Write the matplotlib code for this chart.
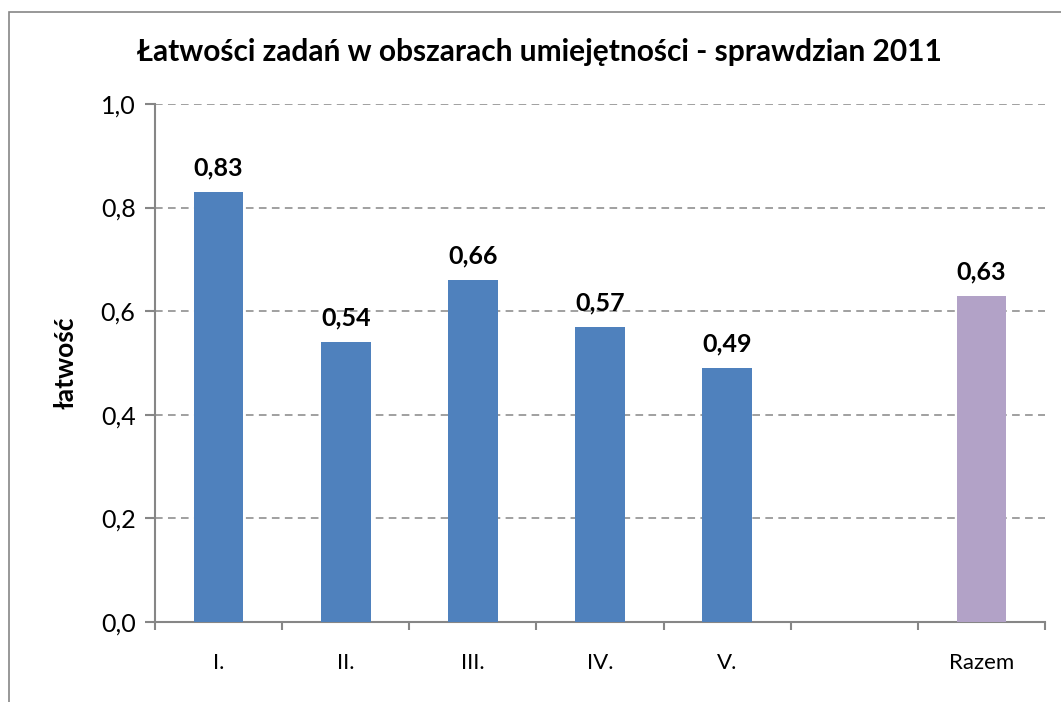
import matplotlib.pyplot as plt
from matplotlib.patches import Rectangle
from matplotlib.ticker import FuncFormatter

plt.rcParams['font.family'] = ['Lato', 'DejaVu Sans']

# dane z wykresu
kategorie = ['I.', 'II.', 'III.', 'IV.', 'V.', '', 'Razem']
latwosci = [0.83, 0.54, 0.66, 0.57, 0.49, None, 0.63]
kolory = ['#4F81BD', '#4F81BD', '#4F81BD', '#4F81BD', '#4F81BD', '#4F81BD', '#B2A2C7']
y_ticks = [0.0, 0.2, 0.4, 0.6, 0.8, 1.0]

szary = '#868686'

fig = plt.figure(figsize=(10.61, 7.02), dpi=100)
ax = fig.add_axes([0.1461, 0.1140, 0.8388, 0.7379])

# ramka wykresu (widoczna lewa i gorna krawedz)
fig.patches.append(Rectangle((9 / 1061, -0.1), 1.2, 1.1 - 12 / 702,
                             transform=fig.transFigure, fill=False,
                             edgecolor=szary, linewidth=1.2))

pozycje = list(range(len(kategorie)))
for i, v in enumerate(latwosci):
    if v is None:
        continue
    ax.bar(i, v, width=0.39, color=kolory[i], zorder=3)
    ax.annotate(f'{v:.2f}'.replace('.', ','), (i, v), xytext=(0, 9),
                textcoords='offset points', ha='center', va='bottom',
                fontsize=18, fontweight='bold')

ax.set_xlim(-0.5, len(kategorie) - 0.5)
ax.set_ylim(0, 1.0)
ax.set_yticks(y_ticks)
ax.yaxis.set_major_formatter(FuncFormatter(lambda v, p: f'{v:.1f}'.replace('.', ',')))
ax.grid(axis='y', color=szary, linestyle=(0, (5, 3.5)), linewidth=1.1, zorder=0)

# ticks na granicach kategorii, etykiety na srodku
ax.set_xticks([p - 0.5 for p in pozycje] + [len(kategorie) - 0.5])
ax.set_xticklabels([])
ax.set_xticks(pozycje, minor=True)
ax.set_xticklabels(kategorie, minor=True, fontsize=16)
ax.tick_params(axis='x', which='minor', length=0, pad=22)
ax.tick_params(axis='x', which='major', length=6, color=szary, width=1.5)
ax.tick_params(axis='y', length=7, color=szary, width=1.5, labelsize=18, pad=7)

for s in ['top', 'right']:
    ax.spines[s].set_visible(False)
for s in ['left', 'bottom']:
    ax.spines[s].set_color(szary)
    ax.spines[s].set_linewidth(1.5)

ax.set_ylabel('łatwość', fontsize=19, fontweight='bold')
ax.yaxis.set_label_coords(-0.087, 0.5)
fig.text(0.508, 0.926, 'Łatwości zadań w obszarach umiejętności - sprawdzian 2011',
         ha='center', va='center', fontsize=21.5, fontweight='bold')

fig.savefig('out.png', dpi=100)
